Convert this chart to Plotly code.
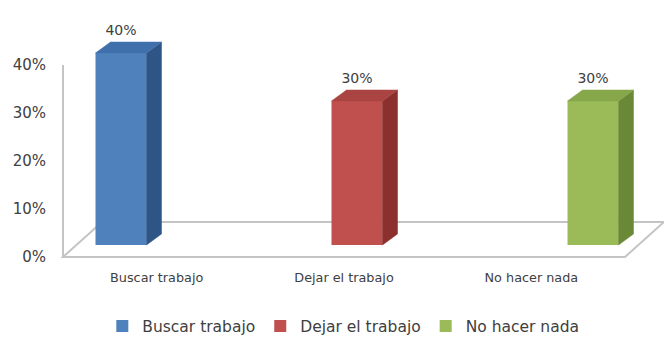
import plotly.graph_objects as go

# ---- data -------------------------------------------------------------
categories = ["Buscar trabajo", "Dejar el trabajo", "No hacer nada"]
values = [0.40, 0.30, 0.30]
y_ticks = [0.0, 0.1, 0.2, 0.3, 0.4]

front_colors = ["#4F81BD", "#C0504D", "#9BBB59"]
side_colors = ["#2F5587", "#8C302E", "#6A8936"]
top_colors = ["#4070AC", "#A94442", "#87A74B"]

# ---- page / box geometry (pixels) -------------------------------------
W, H = 664, 338
M_L, M_B = 52, 70
X0_PX, X_STEP_PX = 121, 236      # centre of first category, pixels per category
Y0_PX, Y_UNIT_PX = 257, 480      # pixel row of 0 %, pixels per 100 %

x_range = [(M_L - X0_PX) / X_STEP_PX, (W - X0_PX) / X_STEP_PX]
y_range = [(Y0_PX - (H - M_B)) / Y_UNIT_PX, Y0_PX / Y_UNIT_PX]

bar_w = 51 / X_STEP_PX           # front face width
base = 12 / Y_UNIT_PX            # bars stand in the middle of the floor
dx = 15 / X_STEP_PX              # depth offset of side / top faces
dy = 11 / Y_UNIT_PX
label_gap = 4 / Y_UNIT_PX        # extra room between bar top and its value

# floor parallelogram and left wall edge
floor_xl = (63 - X0_PX) / X_STEP_PX
floor_xr = (625 - X0_PX) / X_STEP_PX
floor_dx = 39 / X_STEP_PX
floor_depth = 35 / Y_UNIT_PX

FONT = "DejaVu Sans"
TXT = "#404040"

fig = go.Figure()

xs = list(range(len(categories)))

# front faces
for i, (cat, v) in enumerate(zip(categories, values)):
    fig.add_trace(go.Bar(
        x=[xs[i]], y=[v], base=base, width=bar_w, name=cat,
        marker=dict(color=front_colors[i], line=dict(width=0)),
        hoverinfo="skip",
    ))

# side and top faces
for i, v in enumerate(values):
    xl = xs[i] - bar_w / 2
    xr = xs[i] + bar_w / 2
    top = base + v
    fig.add_trace(go.Scatter(
        x=[xr, xr + dx, xr + dx, xr, xr],
        y=[base, base + dy, top + dy, top, base],
        mode="lines", fill="toself", fillcolor=side_colors[i],
        line=dict(color=side_colors[i], width=0.5),
        showlegend=False, hoverinfo="skip",
    ))
    fig.add_trace(go.Scatter(
        x=[xl, xr, xr + dx, xl + dx, xl],
        y=[top, top, top + dy, top + dy, top],
        mode="lines", fill="toself", fillcolor=top_colors[i],
        line=dict(color=top_colors[i], width=0.5),
        showlegend=False, hoverinfo="skip",
    ))

# value labels above each bar
fig.add_trace(go.Scatter(
    x=xs, y=[base + v + dy + label_gap for v in values],
    mode="text", text=[f"{v:.0%}" for v in values],
    textposition="top center",
    textfont=dict(family=FONT, size=14, color=TXT),
    showlegend=False, hoverinfo="skip", cliponaxis=False,
))

grey = "#C4C4C4"
fig.add_shape(
    type="path", xref="x", yref="y", layer="below",
    path=(f"M{floor_xl},0 L{floor_xr},0 L{floor_xr + floor_dx},{floor_depth} "
          f"L{floor_xl + floor_dx},{floor_depth} Z"),
    line=dict(color=grey, width=2), fillcolor="white",
)
fig.add_shape(
    type="line", xref="x", yref="y", layer="below",
    x0=floor_xl, x1=floor_xl, y0=0, y1=y_ticks[-1],
    line=dict(color=grey, width=2),
)

# category labels sit on thirds of the floor's front edge
third = (floor_xr - floor_xl) / len(categories)
cat_pos = [floor_xl + third * (k + 0.5) for k in range(len(categories))]

fig.update_layout(
    width=W, height=H,
    margin=dict(l=M_L, r=0, t=0, b=M_B, autoexpand=False),
    paper_bgcolor="white", plot_bgcolor="white",
    barmode="overlay",
    showlegend=True,
    legend=dict(
        orientation="h", x=0.476, xanchor="center", y=-0.155, yanchor="top",
        font=dict(family=FONT, size=15.5, color=TXT),
    ),
    xaxis=dict(
        range=x_range, showgrid=False, zeroline=False, showline=False,
        tickvals=cat_pos, ticktext=categories, ticks="",
        tickfont=dict(family=FONT, size=12.8, color=TXT),
    ),
    yaxis=dict(
        range=y_range, showgrid=False, zeroline=False, showline=False,
        tickvals=y_ticks, tickformat=".0%", ticks="", ticklabelstandoff=5,
        tickfont=dict(family=FONT, size=15, color=TXT),
    ),
)

fig.write_html("out.html")
